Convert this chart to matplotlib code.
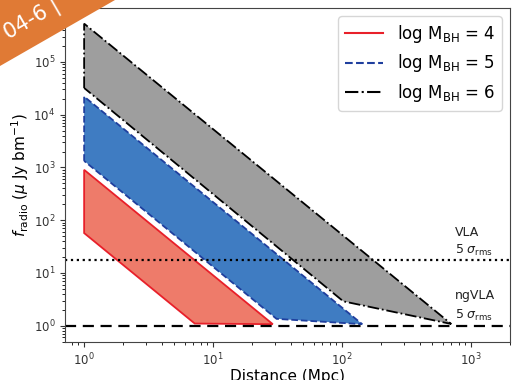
import matplotlib
matplotlib.use('Agg')
import matplotlib.pyplot as plt
from matplotlib.lines import Line2D
from matplotlib.patches import Polygon

# polygon vertices (distance in Mpc, flux in uJy/beam)
red_d = [1, 1, 29, 7.2]
red_f = [57, 900, 1.07, 1.1]
blue_d = [1, 1, 143, 31]
blue_f = [1330, 22000, 1.07, 1.35]
gray_d = [1, 1, 700, 102]
gray_f = [32000, 530000, 1.08, 2.9]

vla_level = 17.7
ngvla_level = 1.0

labels = ["log M$_{\\rm BH}$ = 4", "log M$_{\\rm BH}$ = 5", "log M$_{\\rm BH}$ = 6"]

fig = plt.figure(figsize=(5.28, 3.8), dpi=100)
ax = fig.add_axes([0.123, 0.101, 0.843, 0.878])

ax.fill(gray_d, gray_f, facecolor='#9e9e9e', edgecolor='black', linestyle='-.', linewidth=1.3)
ax.fill(blue_d, blue_f, facecolor='#3f7cc2', edgecolor='#1f3f9e', linestyle='--', linewidth=1.3)
ax.fill(red_d, red_f, facecolor='#ee7b6a', edgecolor='#e8202a', linestyle='-', linewidth=1.3)

ax.axhline(vla_level, color='black', linestyle=':', linewidth=1.6)
ax.axhline(ngvla_level, color='black', linestyle='--', linewidth=1.6, dashes=(5, 3))

ax.text(750, 19.5, "VLA\n5 $\\sigma_{\\rm rms}$", fontsize=9, ha='left', va='bottom',
        color='#222222', linespacing=1.3)
ax.text(750, 1.15, "ngVLA\n5 $\\sigma_{\\rm rms}$", fontsize=9, ha='left', va='bottom',
        color='#222222', linespacing=1.5)

ax.set_xscale('log')
ax.set_yscale('log')
ax.set_xlim(0.71, 2000)
ax.set_ylim(0.5, 1.05e6)

ax.set_xlabel("Distance (Mpc)", fontsize=11, labelpad=1)
ax.set_ylabel("$f_{\\rm radio}$ ($\\mu$ Jy bm$^{-1}$)", fontsize=11, labelpad=2)
ax.tick_params(labelsize=8.5, colors='#333333')
for s in ax.spines.values():
    s.set_color('#444444')

handles = [
    Line2D([], [], color='#e8202a', linestyle='-', linewidth=1.5),
    Line2D([], [], color='#1f3f9e', linestyle='--', linewidth=1.5),
    Line2D([], [], color='black', linestyle='-.', linewidth=1.5),
]
ax.legend(handles, labels, loc='upper right', fontsize=12, handlelength=2.3,
          handletextpad=0.8, borderaxespad=0.5, labelspacing=0.45)

# slide banner overlay in the corner
W, H = 528, 380
tri = Polygon([(0, 1), (115 / W, 1), (0, 1 - 66 / H)], closed=True,
              transform=fig.transFigure, facecolor='#e07a35', edgecolor='none', zorder=10)
fig.patches.append(tri)
fig.text(0, 1 - 44 / H, "04-6 |", rotation=30, color='white', fontsize=15,
         ha='left', va='bottom', zorder=11)

fig.savefig('out.png', dpi=100)
